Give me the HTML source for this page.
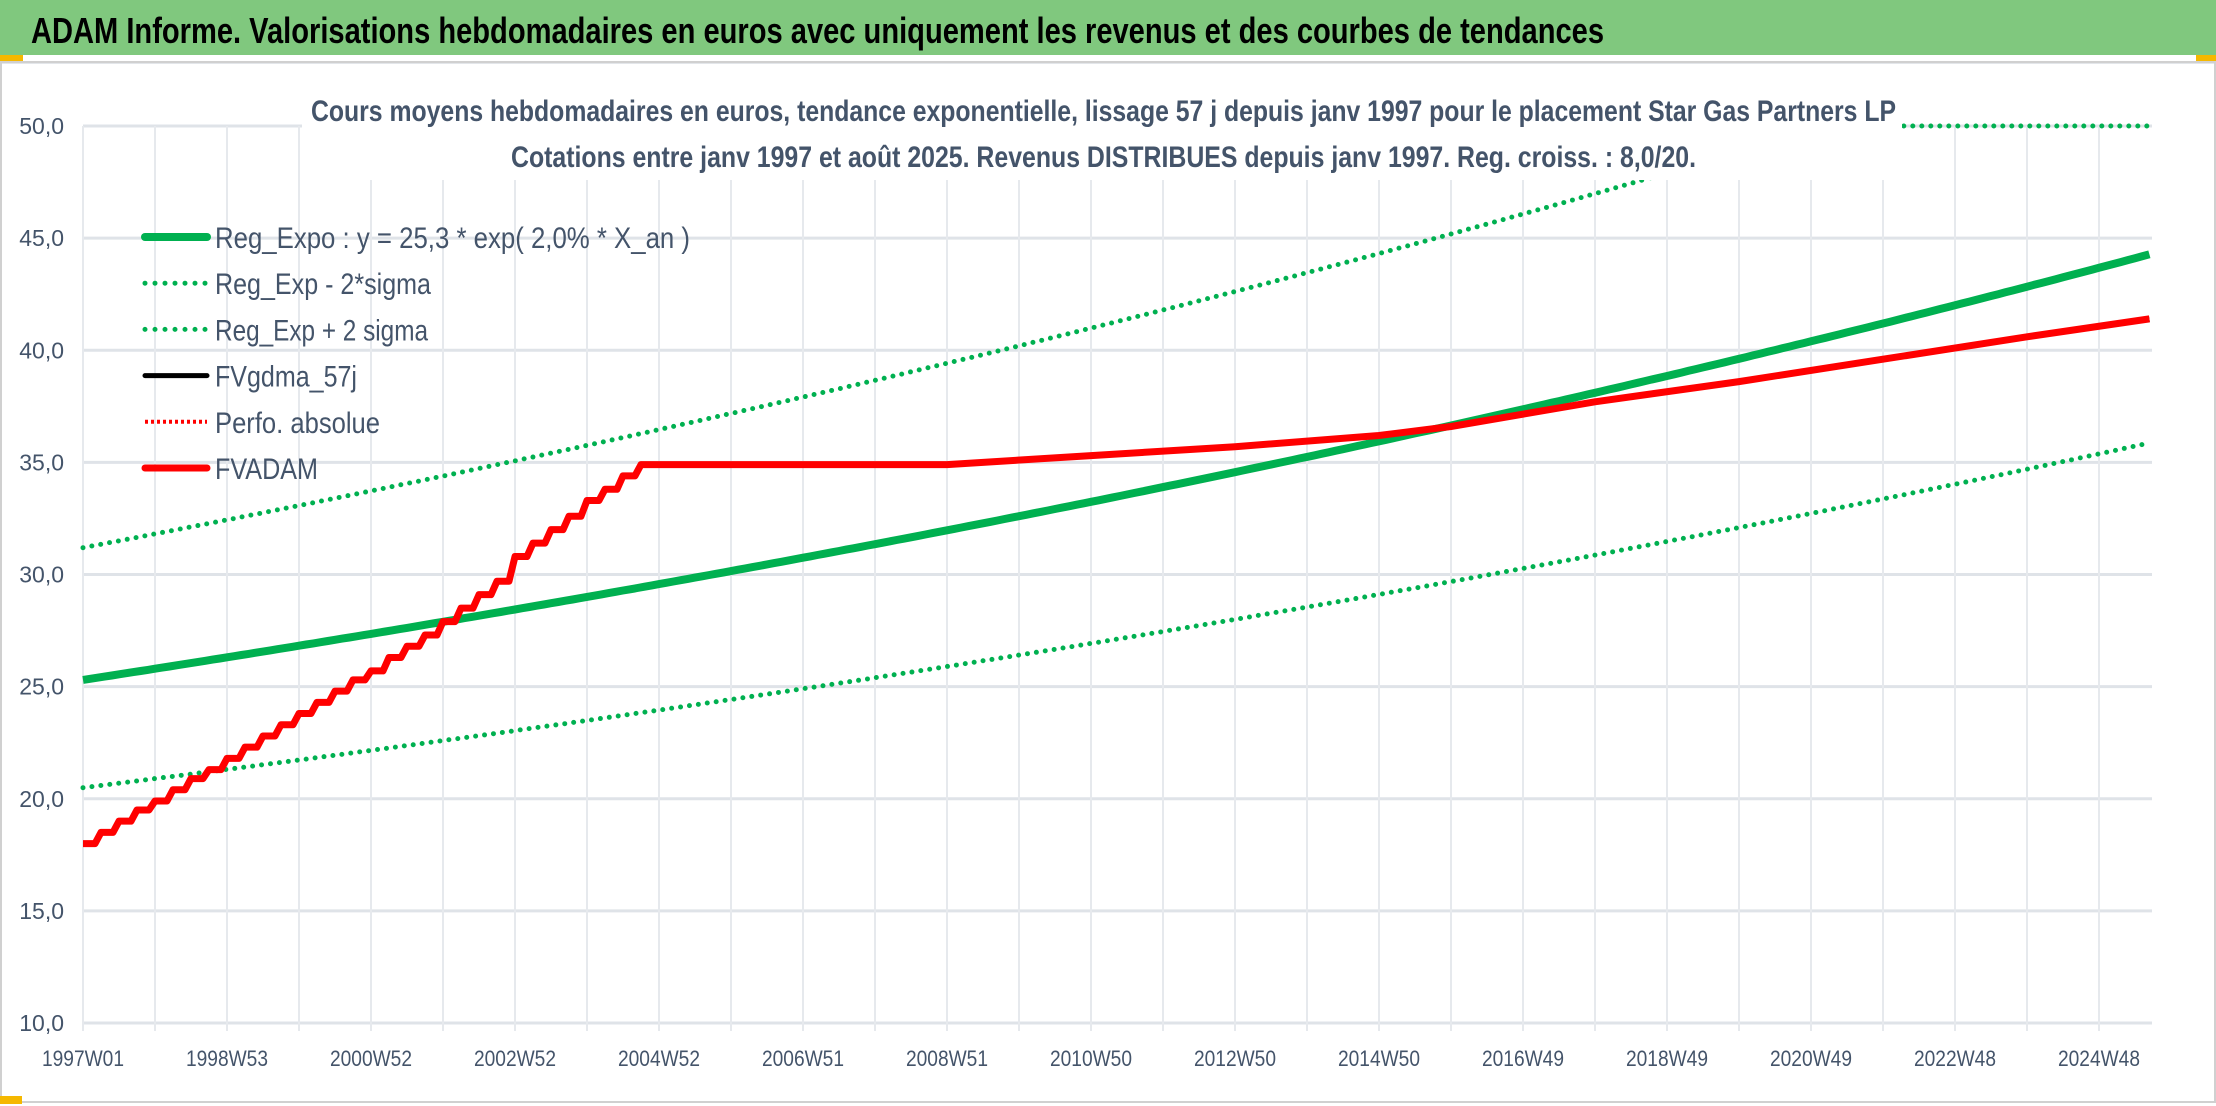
<!DOCTYPE html>
<html><head><meta charset="utf-8"><style>
html,body{margin:0;padding:0;background:#fff;}
svg{display:block;font-family:"Liberation Sans Narrow","Liberation Sans",sans-serif;}
</style></head><body>
<svg id="chart" width="2216" height="1106" viewBox="0 0 2216 1106" xmlns="http://www.w3.org/2000/svg">
<rect x="0" y="0" width="2216" height="1106" fill="#fff"/>
<rect x="0" y="0" width="2216" height="55" fill="#80c87e"/>
<text x="31" y="43" font-size="36" font-weight="bold" fill="#000" textLength="1573" lengthAdjust="spacingAndGlyphs">ADAM Informe. Valorisations hebdomadaires en euros avec uniquement les revenus et des courbes de tendances</text>
<rect x="0" y="55" width="23" height="7" fill="#f5b800"/>
<rect x="2196" y="55" width="20" height="7" fill="#f5b800"/>
<line x1="0" y1="63" x2="2216" y2="63" stroke="#e3e6ea" stroke-width="2"/>
<rect x="1" y="62" width="2214" height="1040" fill="none" stroke="#d0d0d0" stroke-width="2"/>
<g id="grid"></g>
<g id="yticks"></g>
<g id="xticks"></g>
<g id="series"></g>
<rect x="302" y="70" width="1600" height="110" fill="#fff"/>
<text x="311" y="121" font-size="30" font-weight="bold" fill="#44546a" textLength="1585" lengthAdjust="spacingAndGlyphs">Cours moyens hebdomadaires en euros, tendance exponentielle, lissage 57 j depuis janv 1997 pour le placement Star Gas Partners LP</text>
<text x="511" y="167" font-size="30" font-weight="bold" fill="#44546a" textLength="1185" lengthAdjust="spacingAndGlyphs">Cotations entre janv 1997 et août 2025. Revenus DISTRIBUES depuis janv 1997. Reg. croiss. : 8,0/20.</text>
<g id="legend"></g>
<rect x="0" y="1096" width="22" height="8" fill="#f5b800"/>
</svg>
<script>
const yTicks=[10,15,20,25,30,35,40,45,50];
const yTickLabels=["10,0","15,0","20,0","25,0","30,0","35,0","40,0","45,0","50,0"];
const xLabels=["1997W01","1998W53","2000W52","2002W52","2004W52","2006W51","2008W51","2010W50","2012W50","2014W50","2016W49","2018W49","2020W49","2022W48","2024W48"];
const xLabelYears=[0,2,4,6,8,10,12,14,16,18,20,22,24,26,28];
const regA=25.3, regRate=0.0195, sigmaLow=0.81, sigmaHigh=1.233, endYear=28.7;
const fvQuarterT=[0,0.25,0.5,0.75,1,1.25,1.5,1.75,2,2.25,2.5,2.75,3,3.25,3.5,3.75,4,4.25,4.5,4.75,5,5.25,5.5,5.75,6,6.25,6.5,6.75,7,7.25,7.5,7.75];
const fvQuarterV=[18.0,18.5,19.0,19.5,19.9,20.4,20.9,21.3,21.8,22.3,22.8,23.3,23.8,24.3,24.8,25.3,25.7,26.3,26.8,27.3,27.9,28.5,29.1,29.7,30.8,31.4,32.0,32.6,33.3,33.8,34.4,34.9];
const fvLaterT=[7.75,12,14,16,18,19,21,23,25,27,28.7];
const fvLaterV=[34.9,34.9,35.3,35.7,36.2,36.6,37.7,38.6,39.6,40.6,41.4];
const NS="http://www.w3.org/2000/svg";
const X0=83,X1=2152,YR=72,Y10=1023,Y50=126;
const sx=t=>X0+t*YR;
const sy=v=>Y10-(v-10)*(Y10-Y50)/40;
function mk(tag,attrs,parent){const e=document.createElementNS(NS,tag);for(const k in attrs)e.setAttribute(k,attrs[k]);parent.appendChild(e);return e;}
const grid=document.getElementById('grid');
for(let i=0;i<yTicks.length;i++){
 const l=mk('line',{x1:X0,x2:X1,y1:sy(yTicks[i]),y2:sy(yTicks[i]),stroke:'#dfe3e8','stroke-width':3},grid);
 
 
}
for(let y=0;y<=28;y++){
 const l=mk('line',{x1:sx(y),x2:sx(y),y1:Y50,y2:Y10+8,stroke:'#e6e9ed','stroke-width':2},grid);
 
 
}
const yt=document.getElementById('yticks');
for(let i=0;i<yTicks.length;i++){
 const t=mk('text',{x:64,y:sy(yTicks[i])+8,'font-size':23,fill:'#44546a','text-anchor':'end'},yt);
 t.textContent=yTickLabels[i];
 
 
}
const xt=document.getElementById('xticks');
for(let i=0;i<xLabels.length;i++){
 const t=mk('text',{x:sx(xLabelYears[i]),y:1066,'font-size':22,fill:'#44546a','text-anchor':'middle',textLength:82,lengthAdjust:'spacingAndGlyphs'},xt);
 t.textContent=xLabels[i];
 
 
}
const ser=document.getElementById('series');
function curve(f){let d='';for(let t=0;t<=endYear+1e-9;t+=0.1){const v=Math.min(f(t),50);d+=(d?'L':'M')+sx(t).toFixed(1)+','+sy(v).toFixed(1);}return d;}
const lo=mk('path',{d:curve(t=>regA*sigmaLow*Math.exp(regRate*t)),fill:'none',stroke:'#00b050','stroke-width':5,'stroke-dasharray':'0 9','stroke-linecap':'round'},ser);


const hi=mk('path',{d:curve(t=>regA*sigmaHigh*Math.exp(regRate*t)),fill:'none',stroke:'#00b050','stroke-width':5,'stroke-dasharray':'0 9','stroke-linecap':'round'},ser);


const rg=mk('path',{d:curve(t=>regA*Math.exp(regRate*t)),fill:'none',stroke:'#00b050','stroke-width':8},ser);


let d='';
for(let i=0;i<fvQuarterT.length;i++){
 const x=sx(fvQuarterT[i]),y=sy(fvQuarterV[i]);
 if(i===0)d='M'+x+','+y;else d+='L'+(x-6)+','+sy(fvQuarterV[i-1])+'L'+x+','+y;
}
for(let i=1;i<fvLaterT.length;i++)d+='L'+sx(fvLaterT[i]).toFixed(1)+','+sy(fvLaterV[i]).toFixed(1);
const blk=mk('path',{d:d,fill:'none',stroke:'#000','stroke-width':6,'stroke-linejoin':'round'},ser);


const red=mk('path',{d:d,fill:'none',stroke:'#ff0000','stroke-width':7,'stroke-linejoin':'round'},ser);


const legNames=["Reg_Expo : y = 25,3 * exp( 2,0% *  X_an )","Reg_Exp - 2*sigma","Reg_Exp + 2 sigma","FVgdma_57j","Perfo. absolue","FVADAM"];
const legEnds=[690,431,428,357,380,318];
const legColors=['#00b050','#00b050','#00b050','#000','#ff0000','#ff0000'];
const legDotted=[false,true,true,false,true,false];
const legW=[8,5,5,5,4,7];
const lg=document.getElementById('legend');
for(let i=0;i<legNames.length;i++){
 const y=237+i*46.2;
 const a={x1:145,x2:207,y1:y,y2:y,stroke:legColors[i],'stroke-width':legW[i],'stroke-linecap':'round'};
 if(legDotted[i]){a['stroke-dasharray']=legW[i]>4?'0 10':'3 3';if(legW[i]<=4)a['stroke-linecap']='butt';}
 const l=mk('line',a,lg);
 
 
 const t=mk('text',{x:215,y:y+11,'font-size':30,fill:'#44546a',textLength:legEnds[i]-215,lengthAdjust:'spacingAndGlyphs'},lg);
 t.textContent=legNames[i];
 
 
}
</script>
</body></html>
